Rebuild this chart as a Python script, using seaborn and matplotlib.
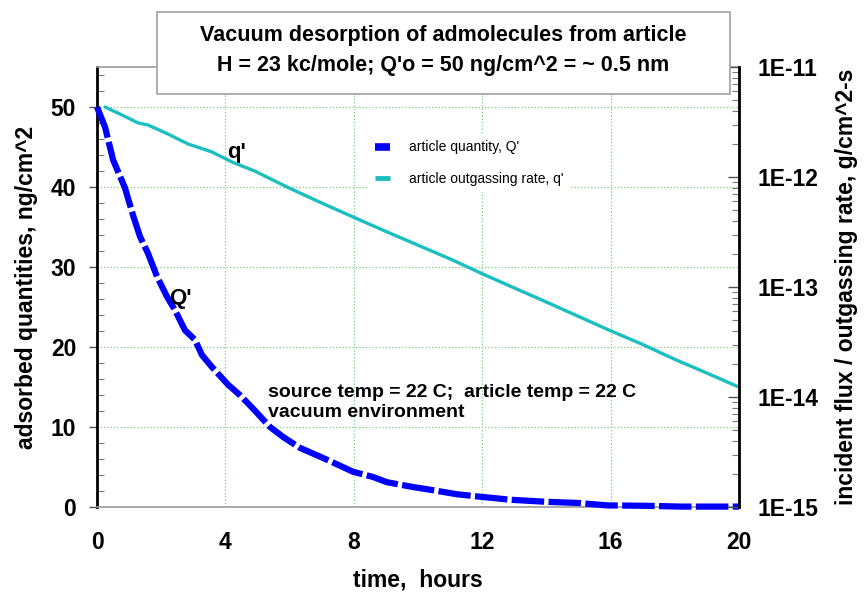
import numpy as np
import pandas as pd
import matplotlib
matplotlib.use("Agg")
import matplotlib.pyplot as plt
from matplotlib.lines import Line2D
from matplotlib.patches import Rectangle
from matplotlib.ticker import MultipleLocator, FuncFormatter, LogLocator, NullFormatter
import seaborn as sns

# adsorbed quantity on the article, ng/cm^2, vs time in hours
q_time = [0.0, 0.25, 0.5, 0.87, 1.12, 1.34, 1.59, 1.87, 2.18, 2.43, 2.74, 3.05,
          3.27, 3.58, 4.08, 4.45, 4.86, 5.39, 5.8, 6.32, 7.17, 7.98, 8.6, 9.03,
          9.84, 10.47, 11.2, 11.9, 12.9, 14.0, 15.0, 15.9, 17.1, 18.2, 20.0]
q_quantity = [50.0, 47.5, 43.4, 39.9, 36.5, 33.8, 31.7, 28.8, 26.3, 24.6, 22.1, 20.9,
              19.0, 17.5, 15.3, 14.0, 12.3, 10.0, 8.75, 7.4, 5.9, 4.4, 3.75, 3.1,
              2.5, 2.1, 1.6, 1.3, 0.9, 0.65, 0.5, 0.2, 0.15, 0.05, 0.05]

# article outgassing rate, g/cm^2-s
rate_time = [0.25, 0.78, 1.28, 1.59, 2.21, 2.83, 3.58, 4.2, 4.92, 6.0, 7.0, 8.0,
             9.0, 10.0, 11.0, 12.0, 13.0, 14.0, 15.0, 16.0, 17.0, 18.0, 19.0, 20.0]
rate_value = [4.33e-12, 3.66e-12, 3.10e-12, 2.97e-12, 2.46e-12, 2.0e-12, 1.69e-12,
              1.37e-12, 1.13e-12, 7.9e-13, 5.8e-13, 4.3e-13, 3.2e-13, 2.4e-13,
              1.8e-13, 1.32e-13, 9.8e-14, 7.3e-14, 5.4e-14, 4.0e-14, 3.0e-14,
              2.2e-14, 1.65e-14, 1.23e-14]

x_ticks = [0, 4, 8, 12, 16, 20]
y_ticks = [0, 10, 20, 30, 40, 50]
rate_ticks = [1e-15, 1e-14, 1e-13, 1e-12, 1e-11]

legend_labels = ["article quantity, Q'", "article outgassing rate, q'"]
title_lines = ["Vacuum desorption of admolecules from article",
               "H = 23 kc/mole; Q'o = 50 ng/cm^2 = ~ 0.5 nm"]
note_text = "source temp = 22 C;  article temp = 22 C\nvacuum environment"

BLUE = "#0000ff"
CYAN = "#1cbfbf"
GRID = "#7fcf7f"

sns.set_theme(style="white")
plt.rcParams["font.family"] = ["Liberation Sans", "DejaVu Sans"]
plt.rcParams["font.weight"] = "bold"
for key in ("text.color", "axes.labelcolor", "xtick.color", "ytick.color"):
    plt.rcParams[key] = "black"

df_q = pd.DataFrame({"time": q_time, "Q": q_quantity})
df_r = pd.DataFrame({"time": rate_time, "rate": rate_value})

fig = plt.figure(figsize=(8.64, 5.92), dpi=100)
ax = fig.add_axes([97 / 864, 1 - 507 / 592, 642 / 864, 440 / 592])
ax2 = ax.twinx()

sns.lineplot(data=df_q, x="time", y="Q", ax=ax, color=BLUE, lw=4.5,
             linestyle=(0, (5.2, 0.7)), clip_on=False, zorder=5)
sns.lineplot(data=df_r, x="time", y="rate", ax=ax2, color=CYAN, lw=2.4)

# left axis: quantity
ax.set_xlim(0, 20)
ax.set_ylim(0, 55)
ax.set_xticks(x_ticks)
ax.set_yticks(y_ticks)
ax.xaxis.set_minor_locator(MultipleLocator(1))
ax.yaxis.set_minor_locator(MultipleLocator(2))
ax.grid(True, which="major", color=GRID, linestyle=":", linewidth=0.9)
ax.tick_params(axis="x", which="major", direction="out", length=6, width=1,
               color="#777777", labelcolor="black", labelsize=16.5, pad=11)
ax.tick_params(axis="x", which="minor", direction="in", length=5, width=0.8,
               color="#999999")
ax.tick_params(axis="y", which="major", direction="out", length=6, width=1,
               color="#555555", labelcolor="black", labelsize=16.5, pad=9)
ax.tick_params(axis="y", which="minor", direction="in", length=5, width=0.8,
               color="#777777")
ax.set_xlabel("time,  hours", fontsize=16.5, fontweight="bold", labelpad=11,
              color="black")
ax.set_ylabel("adsorbed quantities, ng/cm^2", fontsize=16.5, fontweight="bold",
              labelpad=9, color="black")
for side in ("top", "bottom"):
    ax.spines[side].set_color("#9a9a9a")
    ax.spines[side].set_linewidth(1.2)
ax.spines["left"].set_color("black")
ax.spines["left"].set_linewidth(2)
ax.spines["right"].set_visible(False)

# right axis: flux / outgassing rate on a log scale
ax2.set_yscale("log")
ax2.set_ylim(1e-15, 1e-11)
ax2.set_yticks(rate_ticks)
ax2.yaxis.set_major_formatter(
    FuncFormatter(lambda v, _: f"1E{int(round(np.log10(v)))}"))
ax2.yaxis.set_minor_locator(LogLocator(base=10, subs=np.arange(2, 10)))
ax2.yaxis.set_minor_formatter(NullFormatter())
ax2.tick_params(axis="y", which="major", direction="in", length=8, width=1,
                color="#555555", labelcolor="black", labelsize=16.5, pad=13)
ax2.tick_params(axis="y", which="minor", direction="in", length=5, width=0.8,
                color="#777777")
ax2.set_ylabel("incident flux / outgassing rate, g/cm^2-s", fontsize=16.5,
               fontweight="bold", labelpad=12, color="black")
for side in ("left", "top", "bottom"):
    ax2.spines[side].set_visible(False)
ax2.spines["right"].set_color("black")
ax2.spines["right"].set_linewidth(2)
for lab in ax.get_xticklabels() + ax.get_yticklabels() + ax2.get_yticklabels():
    lab.set_fontweight("bold")

# curve labels and run conditions
ax.text(4.36, 44.3, "q'", fontsize=16, fontweight="bold", ha="center", va="center")
ax.text(2.6, 26.1, "Q'", fontsize=16, fontweight="bold", ha="center", va="center",
        zorder=6)
ax.text(5.33, 13.1, note_text, fontsize=14, fontweight="bold", ha="left",
        va="center", linespacing=1.25)

handles = [Line2D([], [], color=BLUE, lw=5.5, solid_capstyle="butt"),
           Line2D([], [], color=CYAN, lw=3.5, solid_capstyle="butt")]
leg = ax2.legend(handles, legend_labels, loc="upper left",
                 bbox_to_anchor=(362 / 864, 1 - 128 / 592),
                 bbox_transform=fig.transFigure, frameon=True, fancybox=False,
                 facecolor="white", edgecolor="white", framealpha=1,
                 handlelength=1.1, handletextpad=1.4, labelspacing=1.25,
                 borderpad=0.4, prop={"size": 10, "weight": "normal"})
for t in leg.get_texts():
    t.set_color("black")

# title box
fig.add_artist(Rectangle((157 / 864, 1 - 94 / 592), 573 / 864, 82 / 592,
                         transform=fig.transFigure, facecolor="white",
                         edgecolor="#a0a0a0", linewidth=1.2, zorder=10))
fig.text(443.5 / 864, 1 - 35 / 592, title_lines[0], fontsize=15.5,
         fontweight="bold", ha="center", va="center", zorder=11, color="black")
fig.text(443.5 / 864, 1 - 66 / 592, title_lines[1], fontsize=15.5,
         fontweight="bold", ha="center", va="center", zorder=11, color="black")

fig.savefig("out.png", dpi=100, facecolor="white")
